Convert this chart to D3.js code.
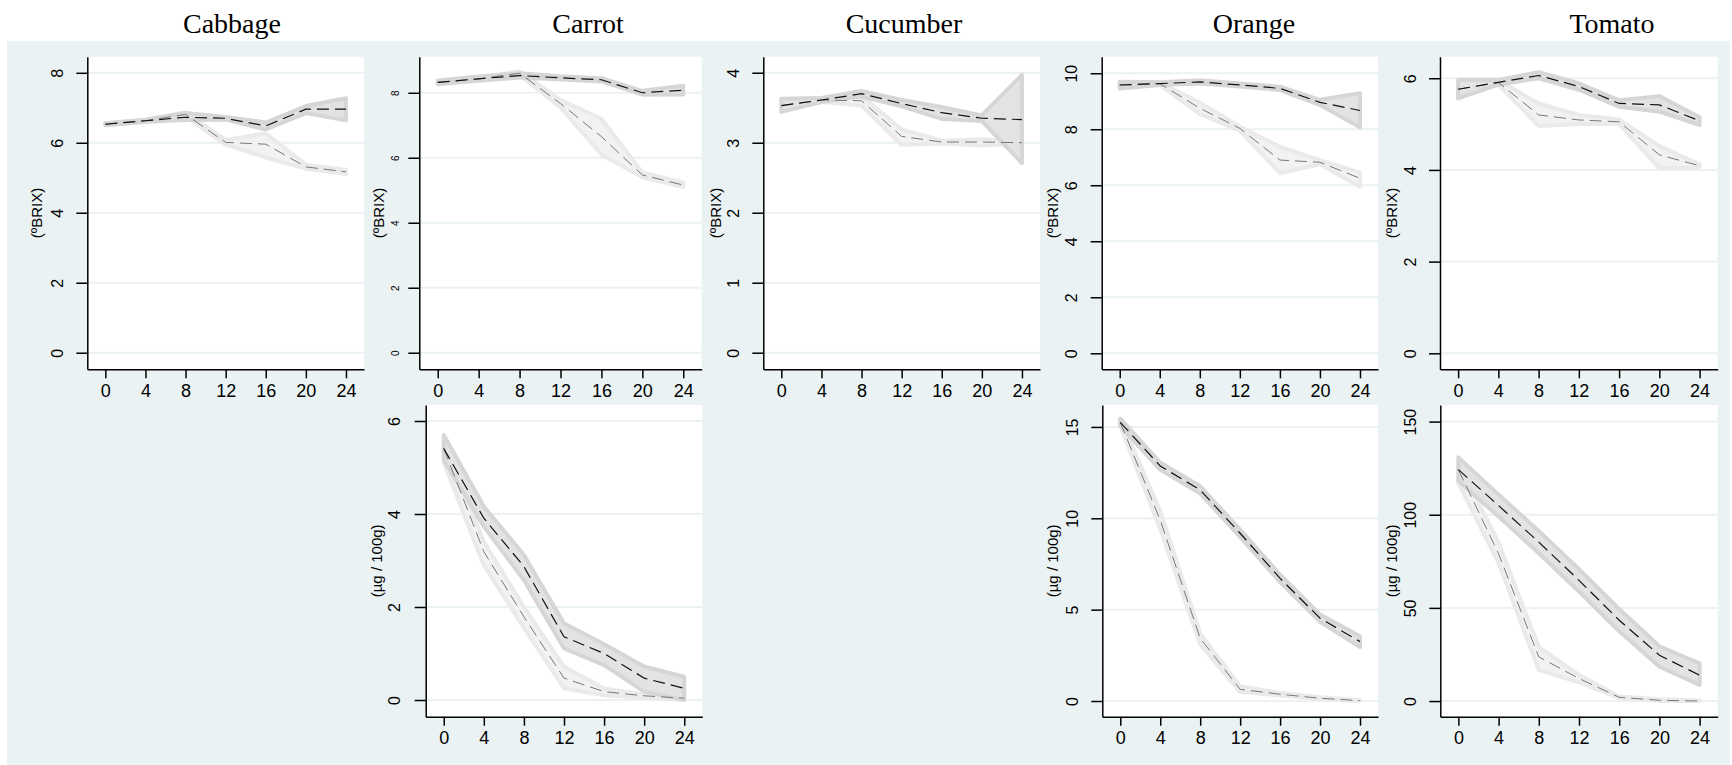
<!DOCTYPE html>
<html>
<head>
<meta charset="utf-8">
<script src="https://cdn.jsdelivr.net/npm/d3@7"></script>
<style>
  body { margin: 0; background: #fff; }
  svg { display: block; }
  text { font-family: "Liberation Sans", Arial, sans-serif; fill: #000; }
  .title { font-family: "Liberation Serif", "Times New Roman", serif; }
</style>
</head>
<body>
<svg id="chart"></svg>
<script>
let width = 1732
let height = 765

// hours of storage
let hours = [0, 4, 8, 12, 16, 20, 24]
let produce = ['Cabbage', 'Carrot', 'Cucumber', 'Orange', 'Tomato']

// tick labels
let cabbageBrixTicks = [0, 2, 4, 6, 8]
let carrotBrixTicks = [0, 2, 4, 6, 8]
let cucumberBrixTicks = [0, 1, 2, 3, 4]
let orangeBrixTicks = [0, 2, 4, 6, 8, 10]
let tomatoBrixTicks = [0, 2, 4, 6]
let carrotVitTicks = [0, 2, 4, 6]
let orangeVitTicks = [0, 5, 10, 15]
let tomatoVitTicks = [0, 50, 100, 150]

// A = dark series, B = light series (mean, lower, upper)
let cabbageBrixA   = [6.53, 6.63, 6.73, 6.70, 6.48, 6.96, 6.96]
let cabbageBrixALo = [6.50, 6.60, 6.65, 6.66, 6.38, 6.85, 6.64]
let cabbageBrixAHi = [6.56, 6.66, 6.85, 6.74, 6.58, 7.05, 7.27]
let cabbageBrixB   = [6.53, 6.63, 6.81, 6.01, 5.96, 5.31, 5.17]
let cabbageBrixBLo = [6.50, 6.60, 6.75, 5.95, 5.58, 5.26, 5.11]
let cabbageBrixBHi = [6.56, 6.66, 6.87, 6.08, 6.27, 5.38, 5.22]

let carrotBrixA   = [8.32, 8.43, 8.53, 8.46, 8.40, 8.00, 8.08]
let carrotBrixALo = [8.26, 8.37, 8.47, 8.41, 8.35, 7.94, 7.95]
let carrotBrixAHi = [8.38, 8.50, 8.60, 8.51, 8.45, 8.06, 8.22]
let carrotBrixB   = [8.32, 8.43, 8.60, 7.67, 6.65, 5.47, 5.16]
let carrotBrixBLo = [8.28, 8.39, 8.55, 7.55, 6.10, 5.40, 5.10]
let carrotBrixBHi = [8.36, 8.47, 8.66, 7.78, 7.20, 5.55, 5.23]

let cucumberBrixA   = [3.53, 3.61, 3.70, 3.56, 3.43, 3.35, 3.33]
let cucumberBrixALo = [3.44, 3.58, 3.66, 3.52, 3.34, 3.31, 2.71]
let cucumberBrixAHi = [3.63, 3.64, 3.74, 3.61, 3.51, 3.39, 3.97]
let cucumberBrixB   = [3.53, 3.61, 3.60, 3.09, 3.01, 3.01, 3.00]
let cucumberBrixBLo = [3.47, 3.58, 3.53, 2.97, 2.99, 2.96, 2.99]
let cucumberBrixBHi = [3.60, 3.64, 3.67, 3.19, 3.03, 3.05, 3.01]

let orangeBrixA   = [9.58, 9.63, 9.69, 9.58, 9.46, 8.96, 8.67]
let orangeBrixALo = [9.45, 9.58, 9.63, 9.53, 9.40, 8.87, 8.07]
let orangeBrixAHi = [9.70, 9.68, 9.75, 9.63, 9.52, 9.05, 9.29]
let orangeBrixB   = [9.58, 9.63, 8.75, 8.03, 6.90, 6.82, 6.25]
let orangeBrixBLo = [9.50, 9.58, 8.55, 7.95, 6.43, 6.75, 5.95]
let orangeBrixBHi = [9.66, 9.68, 8.95, 8.10, 7.38, 6.90, 6.45]

let tomatoBrixA   = [5.76, 5.91, 6.06, 5.82, 5.45, 5.42, 5.07]
let tomatoBrixALo = [5.56, 5.86, 6.00, 5.75, 5.38, 5.27, 4.98]
let tomatoBrixAHi = [5.96, 5.96, 6.13, 5.89, 5.52, 5.61, 5.15]
let tomatoBrixB   = [5.76, 5.91, 5.20, 5.09, 5.05, 4.33, 4.09]
let tomatoBrixBLo = [5.70, 5.86, 4.96, 5.00, 5.00, 4.04, 4.04]
let tomatoBrixBHi = [5.82, 5.96, 5.45, 5.20, 5.10, 4.52, 4.12]

let carrotVitA   = [5.41, 3.91, 2.87, 1.36, 1.00, 0.47, 0.25]
let carrotVitALo = [5.16, 3.73, 2.58, 1.11, 0.75, 0.18, 0.00]
let carrotVitAHi = [5.70, 4.16, 3.12, 1.65, 1.20, 0.72, 0.50]
let carrotVitB   = [5.41, 3.19, 1.79, 0.47, 0.18, 0.09, 0.04]
let carrotVitBLo = [5.10, 2.90, 1.55, 0.25, 0.10, 0.05, 0.00]
let carrotVitBHi = [5.60, 3.40, 2.00, 0.72, 0.25, 0.12, 0.08]

let orangeVitA   = [15.25, 12.86, 11.55, 9.18, 6.71, 4.53, 3.25]
let orangeVitALo = [15.05, 12.65, 11.35, 8.98, 6.51, 4.33, 2.95]
let orangeVitAHi = [15.45, 13.05, 11.75, 9.38, 6.91, 4.73, 3.55]
let orangeVitB   = [15.25, 9.90, 3.43, 0.64, 0.37, 0.15, 0.02]
let orangeVitBLo = [15.05, 9.40, 3.10, 0.50, 0.30, 0.10, 0.00]
let orangeVitBHi = [15.45, 10.40, 3.70, 0.80, 0.45, 0.20, 0.05]

let tomatoVitA   = [124.2, 104.9, 85.3, 64.8, 43.4, 24.6, 13.9]
let tomatoVitALo = [118.3, 99.0, 79.3, 58.8, 37.4, 18.4, 8.6]
let tomatoVitAHi = [130.8, 110.8, 91.3, 70.8, 49.4, 29.4, 20.2]
let tomatoVitB   = [124.2, 79.0, 23.7, 12.1, 2.0, 0.4, 0.0]
let tomatoVitBLo = [117.0, 74.0, 16.6, 10.0, 1.5, 0.0, 0.0]
let tomatoVitBHi = [128.0, 85.0, 29.0, 14.0, 2.5, 1.0, 0.3]

let brixLabel = '(ºBRIX)'
let vitLabel = '(µg / 100g)'

let svg = d3.select('svg')
svg.attr('width', width).attr('height', height)

// graph region
svg.append('rect')
  .attr('x', 7).attr('y', 41)
  .attr('width', 1723).attr('height', 724)
  .attr('fill', '#eaf2f3')

let titleX = [232, 588, 904, 1254, 1612]
svg.selectAll('.title')
  .data(produce)
  .enter()
  .append('text')
  .attr('class', 'title')
  .attr('x', (d, i) => titleX[i])
  .attr('y', 33)
  .attr('text-anchor', 'middle')
  .attr('font-size', 28)
  .text(d => d)

let topRow = { top: 56.7, bottom: 369.3 }
let bottomRow = { top: 405, bottom: 716.7 }

let panels = [
  { row: topRow, left: 87.3, right: 364, yDomain: [-0.474, 8.46], ticks: cabbageBrixTicks, tickFont: 16, tickOff: 30, label: brixLabel, labelOff: 51,
    a: cabbageBrixA, aLo: cabbageBrixALo, aHi: cabbageBrixAHi, b: cabbageBrixB, bLo: cabbageBrixBLo, bHi: cabbageBrixBHi },
  { row: topRow, left: 419.3, right: 701.7, yDomain: [-0.51, 9.11], ticks: carrotBrixTicks, tickFont: 10, tickOff: 24, label: brixLabel, labelOff: 41,
    a: carrotBrixA, aLo: carrotBrixALo, aHi: carrotBrixAHi, b: carrotBrixB, bLo: carrotBrixBLo, bHi: carrotBrixBHi },
  { row: topRow, left: 763.3, right: 1040, yDomain: [-0.237, 4.229], ticks: cucumberBrixTicks, tickFont: 16, tickOff: 30, label: brixLabel, labelOff: 48,
    a: cucumberBrixA, aLo: cucumberBrixALo, aHi: cucumberBrixAHi, b: cucumberBrixB, bLo: cucumberBrixBLo, bHi: cucumberBrixBHi },
  { row: topRow, left: 1101.7, right: 1378, yDomain: [-0.571, 10.59], ticks: orangeBrixTicks, tickFont: 16, tickOff: 30, label: brixLabel, labelOff: 49,
    a: orangeBrixA, aLo: orangeBrixALo, aHi: orangeBrixAHi, b: orangeBrixB, bLo: orangeBrixBLo, bHi: orangeBrixBHi },
  { row: topRow, left: 1440, right: 1717.7, yDomain: [-0.349, 6.47], ticks: tomatoBrixTicks, tickFont: 16, tickOff: 30, label: brixLabel, labelOff: 48,
    a: tomatoBrixA, aLo: tomatoBrixALo, aHi: tomatoBrixAHi, b: tomatoBrixB, bLo: tomatoBrixBLo, bHi: tomatoBrixBHi },
  { row: bottomRow, left: 425.7, right: 702.3, yDomain: [-0.359, 6.344], ticks: carrotVitTicks, tickFont: 16, tickOff: 31, label: vitLabel, labelOff: 49,
    a: carrotVitA, aLo: carrotVitALo, aHi: carrotVitAHi, b: carrotVitB, bLo: carrotVitBLo, bHi: carrotVitBHi },
  { row: bottomRow, left: 1102.3, right: 1378, yDomain: [-0.859, 16.2], ticks: orangeVitTicks, tickFont: 16, tickOff: 30, label: vitLabel, labelOff: 50,
    a: orangeVitA, aLo: orangeVitALo, aHi: orangeVitAHi, b: orangeVitB, bLo: orangeVitBLo, bHi: orangeVitBHi },
  { row: bottomRow, left: 1440.3, right: 1717.7, yDomain: [-8.4, 158.9], ticks: tomatoVitTicks, tickFont: 16, tickOff: 30, label: vitLabel, labelOff: 49,
    a: tomatoVitA, aLo: tomatoVitALo, aHi: tomatoVitAHi, b: tomatoVitB, bLo: tomatoVitBLo, bHi: tomatoVitBHi }
]

let drawPanel = (p) => {
  let top = p.row.top
  let bottom = p.row.bottom
  let g = svg.append('g')

  let xScale = d3.scaleLinear().domain([-1.8, 25.8]).range([p.left, p.right])
  let yScale = d3.scaleLinear().domain(p.yDomain).range([bottom, top])

  // plot region
  g.append('rect')
    .attr('x', p.left).attr('y', top)
    .attr('width', p.right - p.left).attr('height', bottom - top)
    .attr('fill', '#ffffff')

  // grid
  g.selectAll('.grid')
    .data(p.ticks)
    .enter()
    .append('line')
    .attr('x1', p.left).attr('x2', p.right)
    .attr('y1', d => yScale(d)).attr('y2', d => yScale(d))
    .attr('stroke', '#eaf2f3')
    .attr('stroke-width', 2)

  let band = (lo, hi) => d3.area()
    .x((d, i) => xScale(hours[i]))
    .y0((d, i) => yScale(lo[i]))
    .y1((d, i) => yScale(hi[i]))(hours)

  let line = (vals) => d3.line()
    .x((d, i) => xScale(hours[i]))
    .y((d, i) => yScale(vals[i]))(hours)

  g.append('path')
    .attr('d', band(p.bLo, p.bHi))
    .attr('fill', '#f2f2f2')
    .attr('stroke', '#eaeaea')
    .attr('stroke-width', 4)
    .attr('stroke-linejoin', 'round')

  g.append('path')
    .attr('d', band(p.aLo, p.aHi))
    .attr('fill', '#e3e3e3')
    .attr('stroke', '#d6d6d6')
    .attr('stroke-width', 4)
    .attr('stroke-linejoin', 'round')

  g.append('path')
    .attr('d', line(p.b))
    .attr('fill', 'none')
    .attr('stroke', '#777777')
    .attr('stroke-width', 1)
    .attr('stroke-dasharray', '12,6')

  g.append('path')
    .attr('d', line(p.a))
    .attr('fill', 'none')
    .attr('stroke', '#111111')
    .attr('stroke-width', 1.2)
    .attr('stroke-dasharray', '12,6')

  // y axis
  let yAxis = d3.axisLeft(yScale).tickValues(p.ticks).tickFormat(d3.format('d')).tickSize(11).tickSizeOuter(0)
  let yg = g.append('g')
    .attr('transform', 'translate(' + p.left + ',0)')
    .call(yAxis)
  yg.selectAll('path, line').attr('stroke', '#000').attr('stroke-width', 1.5)
  yg.selectAll('text')
    .attr('transform', 'rotate(-90)')
    .attr('x', 0)
    .attr('y', -p.tickOff)
    .attr('dy', '0.35em')
    .attr('text-anchor', 'middle')
    .attr('font-size', p.tickFont)
    .attr('font-family', '"Liberation Sans", Arial, sans-serif')

  // x axis
  let xAxis = d3.axisBottom(xScale).tickValues(hours).tickFormat(d3.format('d')).tickSize(9).tickSizeOuter(0).tickPadding(5.5)
  let xg = g.append('g')
    .attr('transform', 'translate(0,' + bottom + ')')
    .call(xAxis)
  xg.selectAll('path, line').attr('stroke', '#000').attr('stroke-width', 1.5)
  xg.selectAll('text')
    .attr('font-size', 18)
    .attr('font-family', '"Liberation Sans", Arial, sans-serif')

  // axis title
  g.append('text')
    .attr('transform', 'translate(' + (p.left - p.labelOff) + ',' + ((top + bottom) / 2) + ') rotate(-90)')
    .attr('text-anchor', 'middle')
    .attr('dy', '0.35em')
    .attr('font-size', 15)
    .text(p.label)
}

panels.forEach(drawPanel)
</script>
</body>
</html>
